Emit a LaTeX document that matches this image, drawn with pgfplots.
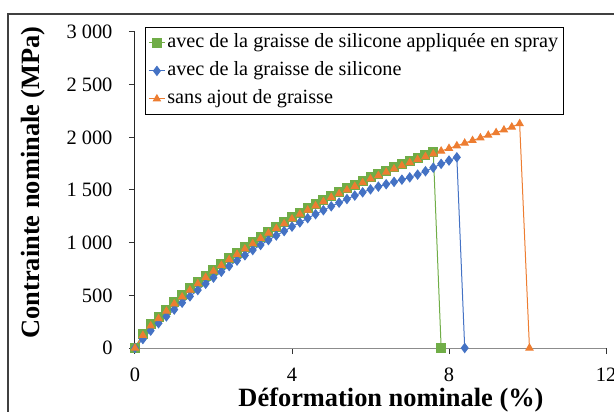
\documentclass[border=0pt]{standalone}
\usepackage{fontspec}
\setmainfont{Liberation Serif}
\usepackage{pgfplots}
\pgfplotsset{compat=1.18}
\definecolor{sprayg}{RGB}{112,173,71}
\definecolor{silb}{RGB}{68,114,196}
\definecolor{sanso}{RGB}{237,125,49}

\begin{document}
\begin{tikzpicture}
% page = the cropped chart area
\clip (-135bp,-64bp) rectangle (479bp,348bp);
\draw[line width=1.6bp, black!75] (-127bp,-90bp) -- (-127bp,334bp) -- (520bp,334bp);
\begin{axis}[
    at={(0,0)}, anchor=south west,
    scale only axis, width=471bp, height=316bp,
    xmin=0, xmax=12, ymin=0, ymax=3000,
    clip=false,
    axis lines=left,
    axis line style={-},
    x axis line style={black!45, line width=1bp},
    y axis line style={black!85, line width=1bp},
    xtick={0,4,8,12},
    ytick={0,500,...,3000},
    tick align=outside,
    major tick length=6bp,
    tick style={black!80, line width=1bp},
    /pgf/number format/assume math mode=true,
    /pgf/number format/1000 sep={\ },
    ticklabel style={font=\fontsize{20.5}{24}\selectfont},
    xticklabel style={yshift=-10.5bp},
    yticklabel style={xshift=-13bp},
    xlabel={Déformation nominale (\%)},
    ylabel={Contrainte nominale (MPa)},
    label style={font=\bfseries\fontsize{26.5}{30}\selectfont},
    xlabel style={at={(axis description cs:0.5435,-0.165)}, anchor=center},
    ylabel style={at={(axis description cs:-0.2166,0.524)}, anchor=center},
    legend style={at={(axis description cs:0.0212,1.0158)}, anchor=north west,
        draw=black, line width=0.8bp, font=\fontsize{20.3}{24}\selectfont,
        inner xsep=3bp, inner ysep=1.5bp, row sep=0bp,
        nodes={text height=14.5bp, text depth=5.5bp, inner ysep=4bp}},
    legend cell align=left,
    legend image code/.code={
        \draw[mark repeat=2, mark phase=2, #1] plot coordinates {(0bp,0bp) (8bp,0bp) (16bp,0bp)};},
]

\addplot[color=sprayg, line width=1bp, mark=square*, mark size=4.5bp] coordinates {
    (0,0) (0.2,135) (0.4,225) (0.6,295) (0.8,365) (1.0,435) (1.2,500) (1.4,565)
    (1.6,625) (1.8,685) (2.0,745) (2.2,800) (2.4,855) (2.6,905) (2.8,955)
    (3.0,1005) (3.2,1055) (3.4,1105) (3.6,1150) (3.8,1195) (4.0,1240)
    (4.2,1285) (4.4,1325) (4.6,1365) (4.8,1405) (5.0,1445) (5.2,1480)
    (5.4,1515) (5.6,1550) (5.8,1585) (6.0,1620) (6.2,1652) (6.4,1684)
    (6.6,1715) (6.8,1746) (7.0,1776) (7.2,1805) (7.4,1832) (7.6,1858)
    (7.8,0)
};
\addlegendentry{avec de la graisse de silicone appliquée en spray}

\addplot[color=silb, line width=1bp, mark=diamond*, mark size=4.5bp] coordinates {
    (0,0) (0.2,85) (0.4,165) (0.6,235) (0.8,300) (1.0,365) (1.2,430) (1.4,490)
    (1.6,550) (1.8,610) (2.0,668) (2.2,724) (2.4,778) (2.6,830) (2.8,880)
    (3.0,930) (3.2,978) (3.4,1024) (3.6,1068) (3.8,1110) (4.0,1152)
    (4.2,1192) (4.4,1232) (4.6,1270) (4.8,1308) (5.0,1345) (5.2,1380)
    (5.4,1414) (5.6,1447) (5.8,1478) (6.0,1506) (6.2,1532) (6.4,1555)
    (6.6,1577) (6.8,1598) (7.0,1620) (7.2,1646) (7.4,1678) (7.6,1712)
    (7.8,1748) (8.0,1780) (8.2,1810) (8.4,0)
};
\addlegendentry{avec de la graisse de silicone}

\addplot[color=sanso, line width=1bp, mark=triangle*, mark size=4bp] coordinates {
    (0,0) (0.2,120) (0.4,210) (0.6,280) (0.8,350) (1.0,420) (1.2,485) (1.4,550)
    (1.6,610) (1.8,670) (2.0,730) (2.2,785) (2.4,840) (2.6,890) (2.8,940)
    (3.0,990) (3.2,1040) (3.4,1090) (3.6,1135) (3.8,1180) (4.0,1225)
    (4.2,1270) (4.4,1310) (4.6,1350) (4.8,1390) (5.0,1430) (5.2,1465)
    (5.4,1500) (5.6,1535) (5.8,1570) (6.0,1605) (6.2,1637) (6.4,1669)
    (6.6,1700) (6.8,1731) (7.0,1761) (7.2,1790) (7.4,1817) (7.6,1843)
    (7.8,1870) (8.0,1895) (8.2,1920) (8.4,1945) (8.6,1970) (8.8,1995)
    (9.0,2020) (9.2,2045) (9.4,2070) (9.6,2098) (9.8,2130) (10.05,0)
};
\addlegendentry{sans ajout de graisse}

\end{axis}
\end{tikzpicture}
\end{document}
